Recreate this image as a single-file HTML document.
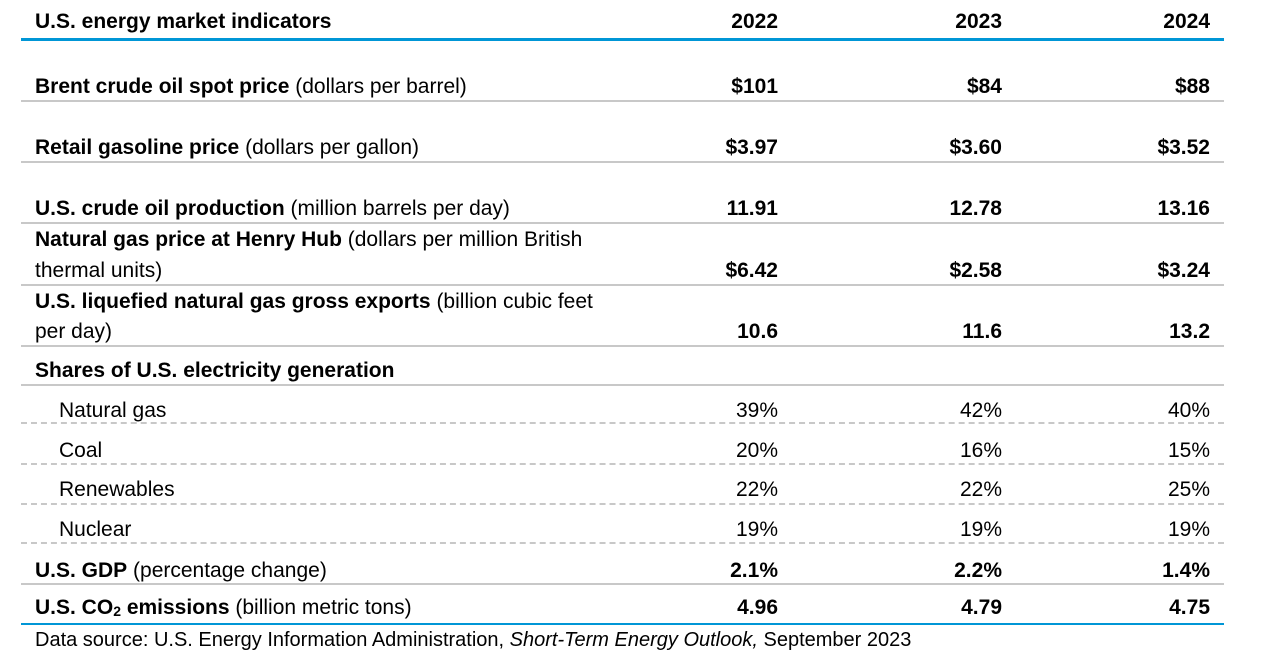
<!DOCTYPE html>
<html><head><meta charset="utf-8"><style>
body{margin:0;background:#fff;width:1267px;height:671px;position:relative;overflow:hidden;font-family:"Liberation Sans",sans-serif;color:#000;font-size:21px}
.t{position:absolute;height:26px;line-height:26px;white-space:nowrap}
.l{left:35px}.i{left:59px}
.c1,.c2,.c3{text-align:right;width:200px}
.c1{left:578px}.c2{left:802px}.c3{left:1010px}
b{font-weight:bold}
.h{position:absolute;left:21px;width:1203px}
.s{border-top:2px solid #c8c8c8}
.d{border-top:2px dashed #c8c8c8}
</style></head><body>
<div class="h" style="top:38px;height:3px;background:#0096d6"></div>
<div class="h s" style="top:100px"></div>
<div class="h s" style="top:161px"></div>
<div class="h s" style="top:222px"></div>
<div class="h s" style="top:284px"></div>
<div class="h s" style="top:345px"></div>
<div class="h s" style="top:384px"></div>
<div class="h d" style="top:422px"></div>
<div class="h d" style="top:463px"></div>
<div class="h d" style="top:503px"></div>
<div class="h d" style="top:542px"></div>
<div class="h s" style="top:583px"></div>
<div class="h" style="top:623px;height:2px;background:#0096d6"></div>

<div class="t l" style="top:9px"><b>U.S. energy market indicators</b></div>
<div class="t c1" style="top:9px"><b>2022</b></div><div class="t c2" style="top:9px"><b>2023</b></div><div class="t c3" style="top:9px"><b>2024</b></div>

<div class="t l" style="top:74px"><b>Brent crude oil spot price</b> (dollars per barrel)</div>
<div class="t c1" style="top:74px"><b>$101</b></div><div class="t c2" style="top:74px"><b>$84</b></div><div class="t c3" style="top:74px"><b>$88</b></div>

<div class="t l" style="top:135px"><b>Retail gasoline price</b> (dollars per gallon)</div>
<div class="t c1" style="top:135px"><b>$3.97</b></div><div class="t c2" style="top:135px"><b>$3.60</b></div><div class="t c3" style="top:135px"><b>$3.52</b></div>

<div class="t l" style="top:196px"><b>U.S. crude oil production</b> (million barrels per day)</div>
<div class="t c1" style="top:196px"><b>11.91</b></div><div class="t c2" style="top:196px"><b>12.78</b></div><div class="t c3" style="top:196px"><b>13.16</b></div>

<div class="t l" style="top:227px"><b>Natural gas price at Henry Hub</b> (dollars per million British</div>
<div class="t l" style="top:258px">thermal units)</div>
<div class="t c1" style="top:258px"><b>$6.42</b></div><div class="t c2" style="top:258px"><b>$2.58</b></div><div class="t c3" style="top:258px"><b>$3.24</b></div>

<div class="t l" style="top:289px"><b>U.S. liquefied natural gas gross exports</b> (billion cubic feet</div>
<div class="t l" style="top:319px">per day)</div>
<div class="t c1" style="top:319px"><b>10.6</b></div><div class="t c2" style="top:319px"><b>11.6</b></div><div class="t c3" style="top:319px"><b>13.2</b></div>

<div class="t l" style="top:358px"><b>Shares of U.S. electricity generation</b></div>

<div class="t i" style="top:398px">Natural gas</div>
<div class="t c1" style="top:398px">39%</div><div class="t c2" style="top:398px">42%</div><div class="t c3" style="top:398px">40%</div>
<div class="t i" style="top:438px">Coal</div>
<div class="t c1" style="top:438px">20%</div><div class="t c2" style="top:438px">16%</div><div class="t c3" style="top:438px">15%</div>
<div class="t i" style="top:477px">Renewables</div>
<div class="t c1" style="top:477px">22%</div><div class="t c2" style="top:477px">22%</div><div class="t c3" style="top:477px">25%</div>
<div class="t i" style="top:517px">Nuclear</div>
<div class="t c1" style="top:517px">19%</div><div class="t c2" style="top:517px">19%</div><div class="t c3" style="top:517px">19%</div>

<div class="t l" style="top:558px"><b>U.S. GDP</b> (percentage change)</div>
<div class="t c1" style="top:558px"><b>2.1%</b></div><div class="t c2" style="top:558px"><b>2.2%</b></div><div class="t c3" style="top:558px"><b>1.4%</b></div>

<div class="t l" style="top:595px"><b>U.S. CO<sub style="font-size:14px;vertical-align:-2px">2</sub> emissions</b> (billion metric tons)</div>
<div class="t c1" style="top:595px"><b>4.96</b></div><div class="t c2" style="top:595px"><b>4.79</b></div><div class="t c3" style="top:595px"><b>4.75</b></div>

<div class="t l" style="top:627px;font-size:20px">Data source: U.S. Energy Information Administration, <i>Short-Term Energy Outlook,</i> September 2023</div>
</body></html>
